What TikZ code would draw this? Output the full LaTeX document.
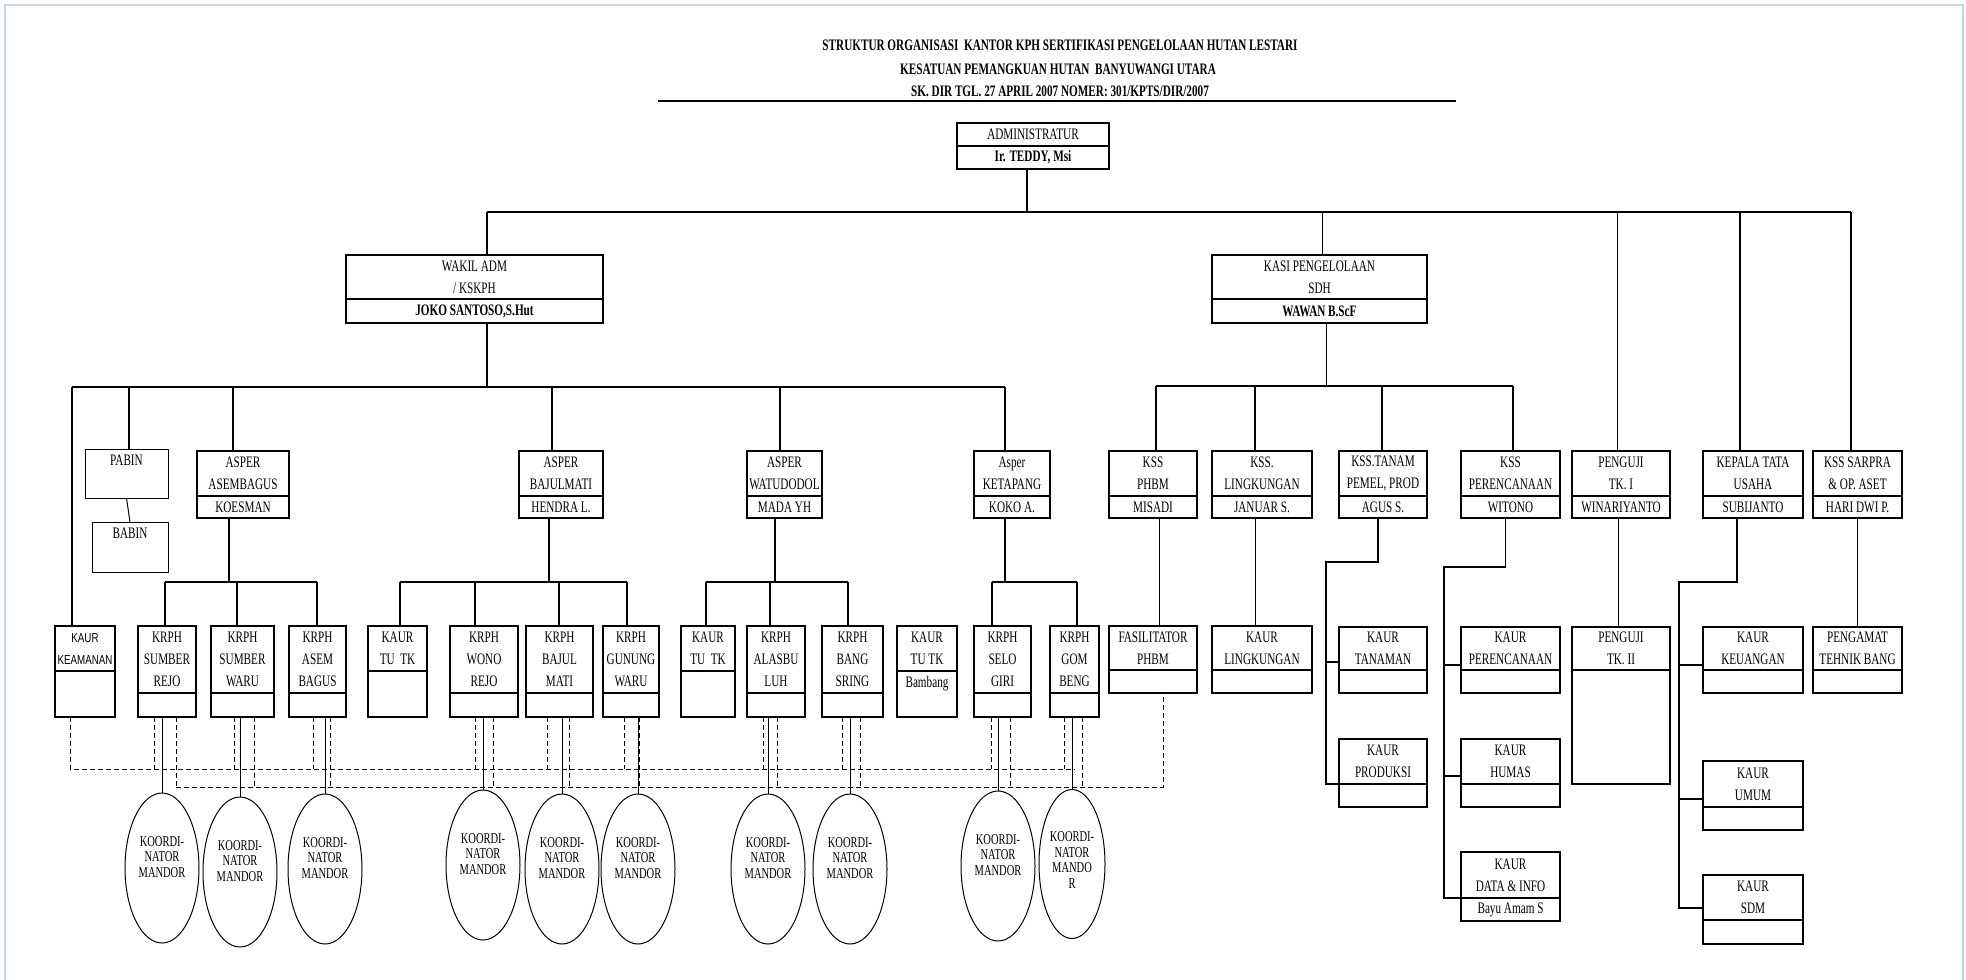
\documentclass[tikz,border=0pt]{standalone}
\usepackage{fontspec}
\setmainfont{Liberation Serif}[FakeStretch=0.7]
\newfontfamily\sansnarrow{Liberation Sans}[FakeStretch=0.75]
\usetikzlibrary{shapes.geometric,calc}
\definecolor{framec}{RGB}{200,212,234}
\tikzset{
 obox/.style={draw, line width=2pt, inner sep=0pt, outer sep=0pt, anchor=north west},
 tbox/.style={draw, line width=1pt, inner sep=0pt, outer sep=0pt, anchor=north west},
 txt/.style={align=center, inner sep=0pt, font=\fontsize{16}{22}\selectfont},
 ttl/.style={align=center, inner sep=0pt, font=\fontsize{16}{22}\selectfont\bfseries},
 stxt/.style={align=center, inner sep=0pt, font=\fontsize{13}{22}\selectfont\sansnarrow},
 thk/.style={line width=2pt},
 med/.style={line width=1.5pt},
 thn/.style={line width=1pt},
 dsh/.style={line width=1pt, dash pattern=on 5pt off 3pt},
 koord/.style={draw, ellipse, line width=1pt, minimum width=74pt, minimum height=150pt, inner sep=0pt},
 ktxt/.style={align=center, inner sep=0pt, font=\fontsize{15}{15.5}\selectfont},
}
% name, x1, y1, x2, ydiv, y2, upper text, lower text
\newcommand\orgbox[8]{%
 \node[obox, minimum width={(#4-#2)*1pt}, minimum height={(#6-#3)*1pt}] (#1) at (#2,#3) {};
 \draw[thk] (#2,#5) -- (#4,#5);
 \node[txt] (#1t) at ({(#2+#4)/2},{(#3+#5)/2}) {#7};
 \node[txt] (#1b) at ({(#2+#4)/2},{(#5+#6)/2}) {#8};
}
\begin{document}
\begin{tikzpicture}[x=1pt,y=-1pt]
\useasboundingbox (0,0) rectangle (1966,980);
\fill[white] (0,0) rectangle (1966,980);
\draw[framec, line width=2.5pt] (5,990) -- (5,5) -- (1963,5) -- (1963,990);

% title
\node[ttl] (t1) at (1060,45) {STRUKTUR ORGANISASI\ \ KANTOR KPH SERTIFIKASI PENGELOLAAN HUTAN LESTARI};
\node[ttl] (t2) at (1058,69) {KESATUAN PEMANGKUAN HUTAN\ \ BANYUWANGI UTARA};
\node[ttl] (t3) at (1060,91) {SK. DIR TGL. 27 APRIL 2007 NOMER: 301/KPTS/DIR/2007};
\draw[line width=2.5pt] (658,101) -- (1456,101);

% level 1-2
\orgbox{admin}{957}{123}{1109}{146}{169}{ADMINISTRATUR}{\bfseries Ir. TEDDY, Msi}
\orgbox{wakil}{346}{255}{603}{299}{323}{WAKIL ADM\\ / KSKPH}{\bfseries JOKO SANTOSO,S.Hut}
\orgbox{kasi}{1212}{255}{1427}{299}{323}{KASI PENGELOLAAN\\SDH}{\bfseries WAWAN B.ScF}

% level 3
\node[tbox, minimum width=83pt, minimum height=49pt] (pabin) at (85,449) {};
\node[txt] (pabint) at (126.5,460) {PABIN};
\node[tbox, minimum width=76pt, minimum height=50pt] (babin) at (92,522) {};
\node[txt] (babint) at (130,533) {BABIN};
\orgbox{asemb}{197}{451}{289}{496}{518}{ASPER\\ASEMBAGUS}{KOESMAN}
\orgbox{bajul}{519}{451}{603}{496}{518}{ASPER\\BAJULMATI}{HENDRA L.}
\orgbox{watu}{747}{451}{822}{496}{518}{ASPER\\WATUDODOL}{MADA YH}
\orgbox{ketap}{974}{451}{1050}{496}{518}{Asper\\KETAPANG}{KOKO A.}
\orgbox{kphbm}{1109}{451}{1197}{496}{518}{KSS\\PHBM}{MISADI}
\orgbox{klingk}{1212}{451}{1312}{496}{518}{KSS.\\LINGKUNGAN}{JANUAR S.}
\orgbox{ktanam}{1339}{451}{1427}{496}{518}{KSS.TANAM\\PEMEL, PROD}{AGUS S.}
\orgbox{kperen}{1461}{451}{1560}{496}{518}{KSS\\PERENCANAAN}{WITONO}
\orgbox{peng1}{1572}{451}{1670}{496}{518}{PENGUJI\\TK. I}{WINARIYANTO}
\orgbox{kepala}{1703}{451}{1803}{496}{518}{KEPALA TATA\\USAHA}{SUBIJANTO}
\orgbox{sarpra}{1813}{451}{1902}{496}{518}{KSS SARPRA\\\& OP. ASET}{HARI DWI P.}

% level 4
\orgbox{keam}{55}{626}{115}{671}{717}{}{}
\node[stxt] (keamtx) at (85,649) {KAUR\\KEAMANAN};
\orgbox{sr}{138}{626}{196}{693}{717}{KRPH\\SUMBER\\REJO}{}
\orgbox{sw}{211}{626}{274}{693}{717}{KRPH\\SUMBER\\WARU}{}
\orgbox{ab}{289}{626}{346}{693}{717}{KRPH\\ASEM\\BAGUS}{}
\orgbox{tua}{368}{626}{427}{671}{717}{KAUR\\TU\ \ TK}{}
\orgbox{wr}{450}{626}{518}{693}{717}{KRPH\\WONO\\REJO}{}
\orgbox{bm}{526}{626}{593}{693}{717}{KRPH\\BAJUL\\MATI}{}
\orgbox{gw}{603}{626}{659}{693}{717}{KRPH\\GUNUNG\\WARU}{}
\orgbox{tub}{681}{626}{735}{671}{717}{KAUR\\TU\ \ TK}{}
\orgbox{al}{747}{626}{805}{693}{717}{KRPH\\ALASBU\\LUH}{}
\orgbox{bs}{822}{626}{883}{693}{717}{KRPH\\BANG\\SRING}{}
\orgbox{tuc}{897}{626}{957}{671}{717}{KAUR\\TU\ TK}{}
\node[txt] (bambang) at (927,684) {Bambang};
\orgbox{sg}{974}{626}{1031}{693}{717}{KRPH\\SELO\\GIRI}{}
\orgbox{gb}{1050}{626}{1099}{693}{717}{KRPH\\GOM\\BENG}{}
\orgbox{fas}{1109}{626}{1197}{670}{693}{FASILITATOR\\PHBM}{}
\orgbox{klg}{1212}{626}{1312}{670}{693}{KAUR\\LINGKUNGAN}{}
\orgbox{ktan}{1339}{627}{1427}{670}{693}{KAUR\\TANAMAN}{}
\orgbox{kpr}{1461}{627}{1560}{670}{693}{KAUR\\PERENCANAAN}{}
\orgbox{peng2}{1572}{627}{1670}{670}{784}{PENGUJI\\TK. II}{}
\orgbox{kkeu}{1703}{627}{1803}{670}{693}{KAUR\\KEUANGAN}{}
\orgbox{pengm}{1813}{627}{1902}{670}{693}{PENGAMAT\\TEHNIK BANG}{}
\orgbox{kprod}{1339}{739}{1427}{784}{807}{KAUR\\PRODUKSI}{}
\orgbox{khum}{1461}{739}{1560}{784}{807}{KAUR\\HUMAS}{}
\orgbox{kdata}{1461}{852}{1560}{898}{921}{KAUR\\DATA \& INFO}{Bayu Amam S}
\orgbox{kumum}{1703}{761}{1803}{807}{830}{KAUR\\UMUM}{}
\orgbox{ksdm}{1703}{875}{1803}{920}{944}{KAUR\\SDM}{}

% ellipses
\foreach \n/\x/\y in {sr/162/868, sw/240/872, ab/325/869, wr/483/865, bm/562/869, gw/638/869, al/768/869, bs/850/869, sg/998/866}{
  \node[koord] (e\n) at (\x,\y) {};
  \node[ktxt] (e\n t) at (\x,\y-11) {KOORDI-\\NATOR\\MANDOR};
}
\node[koord, minimum width=66pt, minimum height=149pt] (egb) at (1072,864) {};
\node[ktxt] (egbt) at (1072,860) {KOORDI-\\NATOR\\MANDO\\R};

% bus coordinates
\coordinate (busA) at (0,212);
\coordinate (busB) at (0,387);
\coordinate (busC) at (0,582);
\coordinate (busD) at (0,386);
\coordinate (dU) at (0,769);
\coordinate (dL) at (0,787);

% top level connectors
\draw[line width=2.5pt] ([xshift=-6pt]admin.south) -- ([xshift=-6pt]admin.south |- busA);
\draw[line width=2.5pt] ([xshift=12pt]wakil.north |- busA) -- ([xshift=-7pt]sarpra.north |- busA);
\draw[thk] ([xshift=12pt]wakil.north) -- ([xshift=12pt]wakil.north |- busA);
\draw[med] ([xshift=3pt]kasi.north) -- ([xshift=3pt]kasi.north |- busA);
\draw[thn] ([xshift=-4pt]peng1.north) -- ([xshift=-4pt]peng1.north |- busA);
\draw[thk] ([xshift=-13pt]kepala.north) -- ([xshift=-13pt]kepala.north |- busA);
\draw[thk] ([xshift=-7pt]sarpra.north) -- ([xshift=-7pt]sarpra.north |- busA);

% wakil branch
\draw[thk] ([xshift=12pt]wakil.south) -- ([xshift=12pt]wakil.south |- busB);
\draw[thk] ([xshift=-13pt]keam.north |- busB) -- ([xshift=-7pt]ketap.north |- busB);
\draw[thk] ([xshift=-13pt]keam.north) -- ([xshift=-13pt]keam.north |- busB);
\draw[thk] ([xshift=2pt]pabin.north) -- ([xshift=2pt]pabin.north |- busB);
\draw[thn] (pabin.south) -- (babin.north);
\draw[thk] ([xshift=-10pt]asemb.north) -- ([xshift=-10pt]asemb.north |- busB);
\draw[thk] ([xshift=-9pt]bajul.north) -- ([xshift=-9pt]bajul.north |- busB);
\draw[thk] ([xshift=-5pt]watu.north) -- ([xshift=-5pt]watu.north |- busB);
\draw[thk] ([xshift=-7pt]ketap.north) -- ([xshift=-7pt]ketap.north |- busB);

% asper sub-branches
\draw[thk] ([xshift=-14pt]asemb.south) -- ([xshift=-14pt]asemb.south |- busC);
\draw[thk] ([xshift=-2pt]sr.north |- busC) -- ([xshift=-1pt]ab.north |- busC);
\draw[thk] ([xshift=-2pt]sr.north) -- ([xshift=-2pt]sr.north |- busC);
\draw[thk] ([xshift=-6pt]sw.north) -- ([xshift=-6pt]sw.north |- busC);
\draw[thk] ([xshift=-1pt]ab.north) -- ([xshift=-1pt]ab.north |- busC);

\draw[thk] ([xshift=-12pt]bajul.south) -- ([xshift=-12pt]bajul.south |- busC);
\draw[thk] ([xshift=2pt]tua.north |- busC) -- ([xshift=-4pt]gw.north |- busC);
\draw[thk] ([xshift=2pt]tua.north) -- ([xshift=2pt]tua.north |- busC);
\draw[thk] ([xshift=-9pt]wr.north) -- ([xshift=-9pt]wr.north |- busC);
\draw[thk] ([xshift=-1pt]bm.north) -- ([xshift=-1pt]bm.north |- busC);
\draw[line width=2.5pt] ([xshift=-4pt]gw.north) -- ([xshift=-4pt]gw.north |- busC);

\draw[thk] ([xshift=-10pt]watu.south) -- ([xshift=-10pt]watu.south |- busC);
\draw[thk] ([xshift=-2pt]tub.north |- busC) -- ([xshift=-5pt]bs.north |- busC);
\draw[thk] ([xshift=-2pt]tub.north) -- ([xshift=-2pt]tub.north |- busC);
\draw[thk] ([xshift=-6pt]al.north) -- ([xshift=-6pt]al.north |- busC);
\draw[thk] ([xshift=-5pt]bs.north) -- ([xshift=-5pt]bs.north |- busC);

\draw[thk] ([xshift=-7pt]ketap.south) -- ([xshift=-7pt]ketap.south |- busC);
\draw[thk] ([xshift=-11pt]sg.north |- busC) -- ([xshift=2pt]gb.north |- busC);
\draw[thk] ([xshift=-11pt]sg.north) -- ([xshift=-11pt]sg.north |- busC);
\draw[thk] ([xshift=2pt]gb.north) -- ([xshift=2pt]gb.north |- busC);

% kasi branch
\draw[thn] ([xshift=7pt]kasi.south) -- ([xshift=7pt]kasi.south |- busD);
\draw[med] ([xshift=3pt]kphbm.north |- busD) -- ([xshift=2pt]kperen.north |- busD);
\draw[thk] ([xshift=3pt]kphbm.north) -- ([xshift=3pt]kphbm.north |- busD);
\draw[thk] ([xshift=-7pt]klingk.north) -- ([xshift=-7pt]klingk.north |- busD);
\draw[thk] ([xshift=-1pt]ktanam.north) -- ([xshift=-1pt]ktanam.north |- busD);
\draw[thk] ([xshift=2pt]kperen.north) -- ([xshift=2pt]kperen.north |- busD);
\draw[thn] ([xshift=6pt]kphbm.south) -- ([xshift=6pt]fas.north);
\draw[thn] ([xshift=-7pt]klingk.south) -- ([xshift=-7pt]klg.north);

\coordinate (tX) at (1326,562);
\draw[med] ([xshift=-5pt]ktanam.south) |- (tX) |- ([yshift=-11pt]kprod.west);
\draw[med] ([yshift=-2pt]tX |- ktan.west) -- ([yshift=-2pt]ktan.west);
\coordinate (pX) at (1444,567);
\draw[med] ([xshift=-5pt]kperen.south) |- (pX) |- ([yshift=-11.5pt]kdata.west);
\draw[thk] ([yshift=-5pt]pX |- kpr.west) -- ([yshift=-5pt]kpr.west);
\draw[med] ([yshift=-3pt]pX |- khum.west) -- ([yshift=-3pt]khum.west);

\draw[thn] ([xshift=-3pt]peng1.south) -- ([xshift=-3pt]peng2.north);

\coordinate (kX) at (1679,582);
\draw[thk] ([xshift=-16pt]kepala.south) |- (kX) |- ([yshift=2pt]ksdm.west);
\draw[thk] ([yshift=-5pt]kX |- kkeu.west) -- ([yshift=-5pt]kkeu.west);
\draw[thk] ([yshift=-3pt]kX |- kumum.west) -- ([yshift=-3pt]kumum.west);

\draw[thn] (sarpra.south) -- (pengm.north);

% koordinator connectors
\foreach \b/\l/\r in {sr/-13/9, sw/-8/12, ab/-4/13, wr/-9/9, bm/-12/10, gw/-7/8, al/-13/1, bs/-10/8, sg/-11/8, gb/-10/8}{
  \draw[dsh] ([xshift=\l pt]\b.south) -- ([xshift=\l pt]\b.south |- dU);
  \draw[dsh] ([xshift=\r pt]\b.south) -- ([xshift=\r pt]\b.south |- dL);
  \draw[thn] (e\b.north) -- (e\b.north |- \b.south);
}
\draw[dsh] ([xshift=-15pt]keam.south) |- (gb.south |- dU);
\draw[dsh] ([xshift=9pt]sr.south |- dL) -| ([xshift=10pt]fas.south);
\end{tikzpicture}
\end{document}
